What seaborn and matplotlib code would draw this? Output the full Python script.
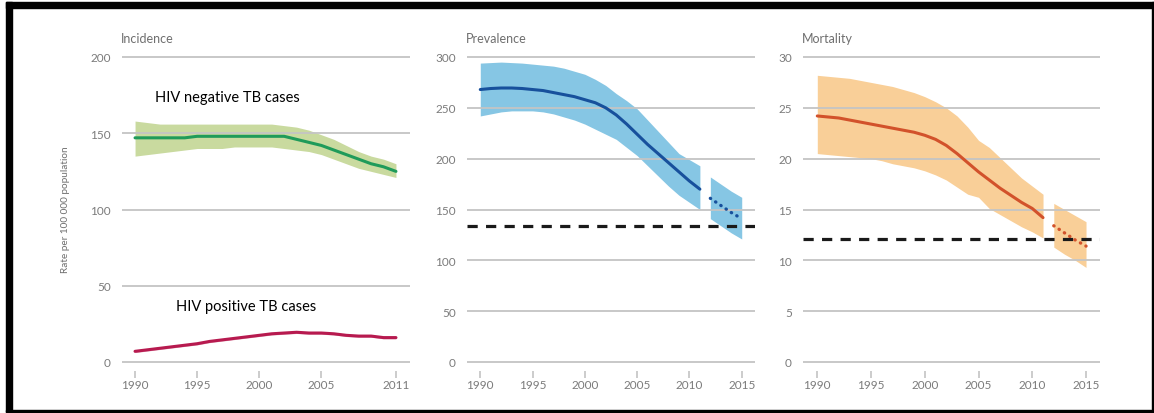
import numpy as np
import pandas as pd
import matplotlib
matplotlib.use("Agg")
import matplotlib.pyplot as plt
from matplotlib.patches import Rectangle
import seaborn as sns

# ---- data -------------------------------------------------------------
years_inc = list(range(1990, 2012))
hiv_neg_mid = [147, 147, 147, 147, 147, 148, 148, 148, 148, 148, 148, 148, 148,
               146, 144, 142, 139, 136, 133, 130, 128, 125]
hiv_neg_lo = [135, 136, 137, 138, 139, 140, 140, 140, 141, 141, 141, 141, 140,
              139, 138, 136, 133, 130, 127, 125, 123, 121]
hiv_neg_hi = [158, 157, 156, 156, 156, 156, 156, 156, 156, 156, 156, 156, 155,
              154, 152, 149, 146, 142, 138, 135, 133, 130]
hiv_pos_mid = [7, 8, 9, 10, 11, 12, 13.5, 14.5, 15.5, 16.5, 17.5, 18.5, 19,
               19.5, 19, 19, 18.5, 17.5, 17, 17, 16, 16]

years_hist = list(range(1990, 2012))
prev_mid = [268, 269, 269.5, 269.5, 269, 268, 267, 265, 263, 261, 258, 255, 250,
            243, 234, 224, 214, 205, 196, 187, 178, 170]
prev_lo = [242, 244, 246, 247, 247, 247, 246, 244, 241, 238, 234, 229, 224,
           219, 211, 203, 193, 183, 173, 164, 157, 150]
prev_hi = [294, 294.5, 295, 294.5, 294, 293, 292, 291, 289, 286, 283, 278, 272,
           264, 257, 249, 238, 227, 216, 205, 199, 193]
mort_mid = [24.2, 24.1, 24.0, 23.8, 23.6, 23.4, 23.2, 23.0, 22.8, 22.6, 22.3,
            21.9, 21.3, 20.5, 19.6, 18.7, 17.9, 17.1, 16.4, 15.7, 15.1, 14.2]
mort_lo = [20.5, 20.4, 20.3, 20.2, 20.1, 20.0, 19.8, 19.5, 19.3, 19.1, 18.8,
           18.4, 17.9, 17.2, 16.5, 16.2, 15.1, 14.5, 13.9, 13.3, 12.8, 12.2]
mort_hi = [28.2, 28.1, 28.0, 27.9, 27.7, 27.5, 27.3, 27.1, 26.8, 26.5, 26.1,
           25.6, 25.0, 24.2, 23.1, 21.8, 21.1, 20.1, 19.1, 18.1, 17.3, 16.5]

years_proj = [2012, 2013, 2014, 2015]
prev_proj_mid = [161, 154, 147, 141]
prev_proj_lo = [141, 134, 127, 121]
prev_proj_hi = [182, 175, 168, 162]
mort_proj_mid = [13.4, 12.7, 12.0, 11.4]
mort_proj_lo = [11.3, 10.6, 10.0, 9.3]
mort_proj_hi = [15.6, 15.0, 14.4, 13.8]

prev_target = 133.5
mort_target = 12.1

inc_ticks = [1990, 1995, 2000, 2005, 2011]
long_ticks = [1990, 1995, 2000, 2005, 2010, 2015]

# ---- style ------------------------------------------------------------
sns.set_theme(style="white")
plt.rcParams["font.family"] = ["Lato", "DejaVu Sans"]

GRID = "#c4c4c4"
TICKTXT = "#7b7b7b"
W, H = 1154, 414

fig = plt.figure(figsize=(W / 100, H / 100), dpi=100)
fig.patch.set_facecolor("white")


def add_axes_px(x0, x1, y_top, y_bot):
    return fig.add_axes([x0 / W, 1 - y_bot / H, (x1 - x0) / W, (y_bot - y_top) / H])


def style_axes(ax, ymax, ystep, xticks, title, top_px, bot_px):
    for s in ax.spines.values():
        s.set_visible(False)
    ax.set_yticks(np.arange(0, ymax + 0.1, ystep))
    ax.set_xticks(xticks)
    ax.grid(False)
    for v in np.arange(ystep, ymax + 0.1, ystep):
        ax.axhline(v, color=GRID, lw=1.3, zorder=2.5)
    ax.axhline(0, color=GRID, lw=1.3, zorder=2.5)
    ax.tick_params(axis="y", length=0, pad=8, labelsize=8.5, labelcolor=TICKTXT)
    ax.tick_params(axis="x", direction="out", length=5, width=1.2, color=GRID,
                   pad=1, labelsize=8.5, labelcolor=TICKTXT, bottom=True)
    ax.set_xlabel("")
    ax.set_ylabel("")
    # title sits 11 px above the top of the axes box
    ax.text(-0.005, 1.0 + 11 / (bot_px - top_px), title, transform=ax.transAxes,
            ha="left", va="center", fontsize=9, color="#6f6f6f")


# pixel geometry: y value 0 at 363 px, top value at 58 px
def ylims(ymax, top_px=50, bot_px=372):
    per = (363 - 58) / ymax
    return (-(bot_px - 363) / per, ymax + (58 - top_px) / per), top_px, bot_px


# ---- Incidence --------------------------------------------------------
(yl, tp, bp) = ylims(200)
ax1 = add_axes_px(122, 410, tp, bp)
ax1.fill_between(years_inc, hiv_neg_lo, hiv_neg_hi, color="#c9da9f", lw=0, zorder=2)
inc_df = pd.DataFrame({"year": years_inc, "neg": hiv_neg_mid, "pos": hiv_pos_mid})
sns.lineplot(data=inc_df, x="year", y="neg", ax=ax1, color="#1f9b5a", lw=2.2, zorder=4)
ax1.fill_between(years_inc, np.array(hiv_pos_mid) - 0.8, np.array(hiv_pos_mid) + 0.8,
                 color="#e3a3b8", lw=0, zorder=2)
sns.lineplot(data=inc_df, x="year", y="pos", ax=ax1, color="#b71a4f", lw=2.2, zorder=4)
ax1.set_xlim(1988.95, 2012.13)
ax1.set_ylim(*yl)
style_axes(ax1, 200, 50, inc_ticks, "Incidence", tp, bp)
ax1.text(1991.6, 174, "HIV negative TB cases", fontsize=10.5, color="black",
         va="center", ha="left", zorder=6)
ax1.text(1993.3, 36.5, "HIV positive TB cases", fontsize=10.5, color="black",
         va="center", ha="left", zorder=6)
fig.text(65 / W, 1 - 210 / H, "Rate per 100 000 population", rotation=90,
         ha="center", va="center", fontsize=7.2, color="#6f6f6f")


def panel(x0, x1, xlim, ymax, ystep, band_col, line_col,
          mid, lo, hi, pmid, plo, phi, target, title):
    (yl, tp, bp) = ylims(ymax)
    ax = add_axes_px(x0, x1, tp, bp)
    ax.fill_between(years_hist, lo, hi, color=band_col, lw=0, zorder=2)
    ax.fill_between(years_proj, plo, phi, color=band_col, lw=0, zorder=2)
    hist_df = pd.DataFrame({"year": years_hist, "value": mid})
    proj_df = pd.DataFrame({"year": years_proj, "value": pmid})
    sns.lineplot(data=hist_df, x="year", y="value", ax=ax, color=line_col,
                 lw=2.2, zorder=4)
    sns.lineplot(data=proj_df, x="year", y="value", ax=ax, color=line_col,
                 lw=2.4, zorder=4, linestyle=(0, (0.1, 1.8)),
                 solid_capstyle="round", dash_capstyle="round")
    ax.axhline(target, color="#1a1a1a", lw=2.3, ls=(0, (3.2, 2.6)), zorder=5)
    ax.set_xlim(*xlim)
    ax.set_ylim(*yl)
    style_axes(ax, ymax, ystep, long_ticks, title, tp, bp)
    return ax


ax2 = panel(467, 755, (1988.73, 2016.27), 300, 50, "#86c6e4", "#17509c",
            prev_mid, prev_lo, prev_hi, prev_proj_mid, prev_proj_lo, prev_proj_hi,
            prev_target, "Prevalence")
ax3 = panel(803, 1100, (1988.67, 2016.30), 30, 5, "#f9cf98", "#d2522b",
            mort_mid, mort_lo, mort_hi, mort_proj_mid, mort_proj_lo, mort_proj_hi,
            mort_target, "Mortality")

# ---- outer frame ------------------------------------------------------
def frame_rect(x0, y0, x1, y1):
    fig.patches.append(Rectangle((x0 / W, 1 - y1 / H), (x1 - x0) / W, (y1 - y0) / H,
                                 transform=fig.transFigure, color="black", zorder=10))

frame_rect(6, 3, W, 9)
frame_rect(6, 3, 12, 413)
frame_rect(6, 411, W, 413)
frame_rect(W - 2, 3, W, 413)

fig.savefig("out.png", dpi=100, facecolor="white")
